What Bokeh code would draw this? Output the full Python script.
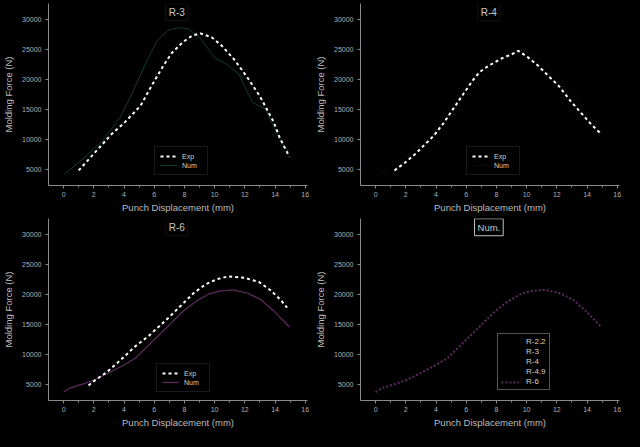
from bokeh.plotting import figure
from bokeh.layouts import gridplot
from bokeh.models import Range1d, FixedTicker, Label, Legend, LegendItem
from bokeh.embed import file_html
from bokeh.resources import INLINE

# ---------------- data ----------------
x_ticks = [0, 2, 4, 6, 8, 10, 12, 14, 16]
x_minor = [1, 3, 5, 7, 9, 11, 13, 15]
y_ticks = [5000, 10000, 15000, 20000, 25000, 30000]

r3_exp_x = [1.0, 2.1, 3.15, 4.0, 5.1, 5.95, 6.6, 7.15, 7.9, 8.5, 9.05, 9.8, 10.45, 11.3, 12.15, 13.0, 13.9, 14.3, 14.95]
r3_exp_y = [4900, 7950, 10850, 12750, 15650, 19500, 22250, 24350, 26200, 27250, 27650, 27000, 25650, 23300, 20400, 17200, 13000, 10400, 7150]
r3_num_x = [0.05, 1.35, 2.6, 3.7, 4.55, 5.4, 6.2, 6.9, 7.6, 8.3, 9.1, 10.0, 10.8, 11.6, 12.5, 13.35, 14.1, 14.5, 14.9]
r3_num_y = [4300, 6950, 9850, 13550, 17750, 22500, 26450, 28150, 28600, 28350, 26700, 23600, 22500, 20900, 16200, 15100, 11200, 9300, 8000]

r4_exp_x = [1.25, 1.9, 2.55, 3.2, 3.85, 4.5, 5.15, 5.8, 6.45, 6.9, 7.5, 8.35, 9.0, 9.45, 10.1, 10.75, 11.4, 12.15, 12.9, 13.55, 14.2, 14.85]
r4_exp_y = [4900, 6100, 7450, 9050, 10650, 12750, 15150, 17550, 19900, 21250, 22300, 23500, 24150, 24750, 23650, 22300, 20700, 18850, 16450, 14600, 12750, 11150]
r4_num_x = [0.0, 1.0, 2.0, 3.0, 4.0, 5.0, 6.0, 7.0, 8.0, 9.0, 10.0, 11.0, 12.0, 13.0, 14.0, 15.0]
r4_num_y = [4000, 5500, 7200, 9200, 11500, 14200, 17200, 20200, 22600, 24300, 24600, 23200, 21000, 17500, 14200, 11000]

r6_exp_x = [1.65, 2.05, 2.8, 3.55, 4.0, 4.75, 5.6, 6.35, 7.1, 7.85, 8.6, 9.45, 10.2, 10.9, 12.0, 12.95, 13.7, 14.35, 14.8]
r6_exp_y = [4900, 5700, 7000, 8600, 9650, 11400, 13050, 14750, 16500, 18350, 20200, 21750, 22550, 23000, 22750, 22050, 20700, 19150, 17800]
r6_num_x = [0.0, 0.45, 1.3, 2.05, 3.0, 4.0, 4.75, 5.6, 6.25, 7.1, 7.95, 8.8, 9.65, 10.3, 11.2, 12.2, 13.05, 13.9, 14.95]
r6_num_y = [3800, 4500, 5150, 5800, 7000, 8300, 9400, 11500, 13100, 15200, 17300, 18900, 20100, 20550, 20750, 20200, 19150, 17300, 14600]

num_series_names = ["R-2.2", "R-3", "R-4", "R-4.9", "R-6"]

# ---------------- style ----------------
FONT = "Liberation Sans"
BG = "#000000"
AXIS_COL = "#8a8a8a"
TICK_TXT = "#b0b0b0"
LABEL_TXT = "#bcbcbc"
LEG_TXT = "#d4d4c4"
EXP_COL = "#ffffff"
TEAL = "#133a33"
PURPLE = "#5c2c5e"
DARK = "#0c0c05"


def make_fig():
    p = figure(width=312, height=215, output_backend="svg", toolbar_location=None,
               x_range=Range1d(-1.0, 16.15), y_range=Range1d(2400, 32600),
               background_fill_color=BG, border_fill_color=BG, outline_line_color=None,
               min_border_left=47, min_border_right=5, min_border_top=3, min_border_bottom=27)
    p.grid.visible = False
    p.xaxis.ticker = FixedTicker(ticks=x_ticks, minor_ticks=x_minor)
    p.yaxis.ticker = FixedTicker(ticks=y_ticks, minor_ticks=[])
    p.xaxis.axis_label = "Punch Displacement (mm)"
    p.yaxis.axis_label = "Molding Force (N)"
    for ax in (p.xaxis[0], p.yaxis[0]):
        ax.axis_line_color = AXIS_COL
        ax.major_tick_line_color = AXIS_COL
        ax.minor_tick_line_color = AXIS_COL
        ax.major_tick_in = 0
        ax.major_tick_out = 3
        ax.minor_tick_in = 0
        ax.minor_tick_out = 2
        ax.major_label_text_font = FONT
        ax.major_label_text_font_size = "7px"
        ax.major_label_text_color = TICK_TXT
        ax.axis_label_text_font = FONT
        ax.axis_label_text_font_size = "9.5px"
        ax.axis_label_text_font_style = "normal"
        ax.axis_label_text_color = LABEL_TXT
    p.xaxis.major_label_standoff = 3
    p.xaxis.axis_label_standoff = 2
    p.yaxis.major_label_standoff = 4
    p.yaxis.axis_label_standoff = 5
    return p


def add_title(p, text, border, size="10px"):
    p.add_layout(Label(x=7.5, y=31150, text=text, text_align="center", text_baseline="middle",
                       text_font=FONT, text_font_size=size, text_color="#c8c8c8",
                       border_line_color=border, padding=3))


def small_legend(p, items, loc, label_size="7px", label_h=8, pad=5, standoff=5, gw=17):
    leg = Legend(items=items, location=loc, orientation="vertical",
                 background_fill_color=BG, background_fill_alpha=1.0,
                 border_line_color="#333333", label_text_font=FONT,
                 label_text_font_size=label_size, label_text_color=LEG_TXT,
                 glyph_width=gw, glyph_height=8, label_height=label_h, label_width=20,
                 spacing=1, padding=pad, margin=0, label_standoff=standoff)
    p.add_layout(leg)
    return leg


# ---- Panel 1 : R-3 ----
p1 = make_fig()
n1 = p1.line(r3_num_x, r3_num_y, line_color=TEAL, line_width=1)
e1 = p1.line(r3_exp_x, r3_exp_y, line_color=EXP_COL, line_width=2, line_dash="3 3")
add_title(p1, "R-3", "#161616")
small_legend(p1, [LegendItem(label="Exp", renderers=[e1]), LegendItem(label="Num", renderers=[n1])], (106, 10))

# ---- Panel 2 : R-4 ----
p2 = make_fig()
n2 = p2.line(r4_num_x, r4_num_y, line_color=DARK, line_width=1)
e2 = p2.line(r4_exp_x, r4_exp_y, line_color=EXP_COL, line_width=2, line_dash="3 3")
add_title(p2, "R-4", "#121212")
small_legend(p2, [LegendItem(label="Exp", renderers=[e2]), LegendItem(label="Num", renderers=[n2])], (106, 10))

# ---- Panel 3 : R-6 ----
p3 = make_fig()
n3 = p3.line(r6_num_x, r6_num_y, line_color=PURPLE, line_width=1.2)
e3 = p3.line(r6_exp_x, r6_exp_y, line_color=EXP_COL, line_width=2, line_dash="3 3")
add_title(p3, "R-6", "#121212")
small_legend(p3, [LegendItem(label="Exp", renderers=[e3]), LegendItem(label="Num", renderers=[n3])], (108, 8))

# ---- Panel 4 : Num. ----
p4 = make_fig()
items4 = []
for name in num_series_names:
    if name == "R-6":
        r = p4.line(r6_num_x, r6_num_y, line_color=PURPLE, line_width=2, line_dash="2 2")
    else:
        r = p4.line(x=[], y=[], line_color="#050505", line_width=1)
    items4.append(LegendItem(label=name, renderers=[r]))
add_title(p4, "Num.", "#c0c0c0", size="9.5px")
leg4 = small_legend(p4, items4, (137, 10), label_size="8px", label_h=9, pad=3, standoff=7, gw=18)
leg4.border_line_color = "#a8a8a8"

grid = gridplot([[p1, p2], [p3, p4]], toolbar_location=None)
html = file_html(grid, INLINE)
html = html.replace("</head>", "<style>html, body { background: #000000; }</style></head>", 1)
open("out.html", "w").write(html)
